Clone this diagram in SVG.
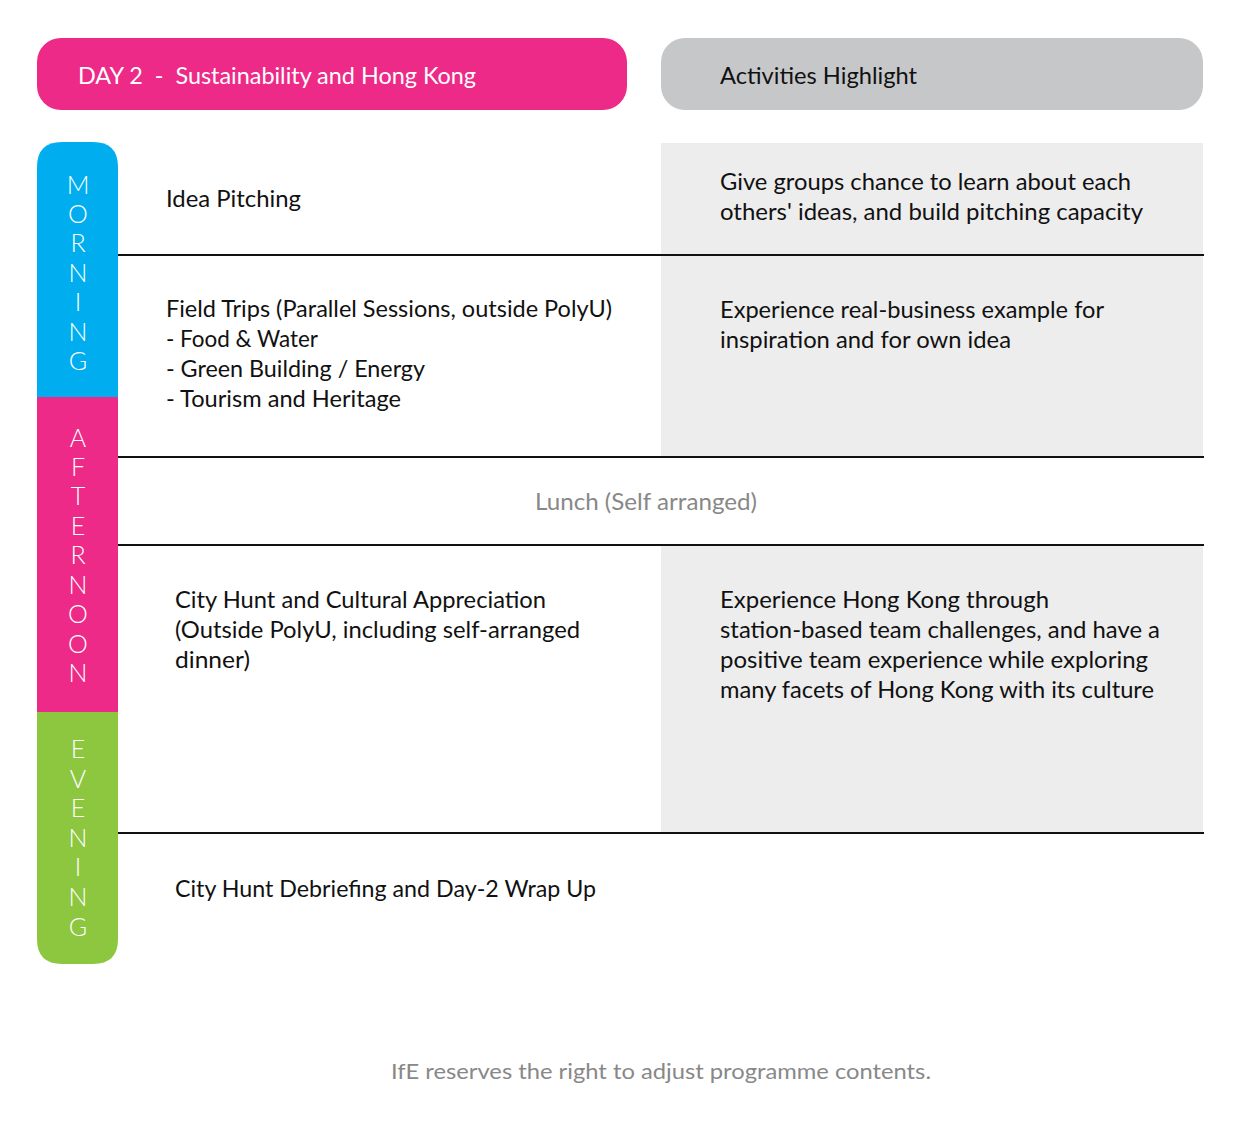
<svg xmlns="http://www.w3.org/2000/svg" width="1240" height="1139" viewBox="0 0 1240 1139">
<style>
.t{font-family:"Lato","Liberation Sans",sans-serif;font-size:23px;fill:#111}
.w{font-family:"Lato","Liberation Sans",sans-serif;font-size:23px;fill:#fff;white-space:pre}
.g{font-family:"Lato","Liberation Sans",sans-serif;fill:#888}
.bar{font-family:"Lato","Liberation Sans",sans-serif;font-size:25px;font-weight:300;fill:#fff;text-anchor:middle}
.ln{stroke:#111;stroke-width:2}
</style>
<rect width="1240" height="1139" fill="#fff"/>
<g id="header-day">
<rect x="37" y="38" width="590" height="72" rx="24" fill="#ED2A87"/>
<text class="w" x="78" y="84" xml:space="preserve" textLength="398" lengthAdjust="spacingAndGlyphs">DAY 2  -  Sustainability and Hong Kong</text>
</g>
<g id="header-activities">
<rect x="661" y="38" width="542" height="72" rx="24" fill="#C6C7C9"/>
<text class="t" x="720" y="84" textLength="197" lengthAdjust="spacingAndGlyphs">Activities Highlight</text>
</g>
<g id="panels">
<rect x="661" y="143" width="542" height="314" fill="#EDEDED"/>
<rect x="661" y="545" width="542" height="288" fill="#EDEDED"/>
</g>
<g id="timebar">
<path d="M37,397 V167 Q37,142 62,142 H93 Q118,142 118,167 V397 Z" fill="#00AEEF"/>
<rect x="37" y="397" width="81" height="315" fill="#ED2A87"/>
<path d="M37,712 H118 V939 Q118,964 93,964 H62 Q37,964 37,939 Z" fill="#8DC63F"/>
<text class="bar" x="78" y="194">M</text>
<text class="bar" x="78" y="223">O</text>
<text class="bar" x="78" y="252">R</text>
<text class="bar" x="78" y="282">N</text>
<text class="bar" x="78" y="311">I</text>
<text class="bar" x="78" y="341">N</text>
<text class="bar" x="78" y="370">G</text>
<text class="bar" x="78" y="447">A</text>
<text class="bar" x="78" y="476">F</text>
<text class="bar" x="78" y="505">T</text>
<text class="bar" x="78" y="535">E</text>
<text class="bar" x="78" y="564">R</text>
<text class="bar" x="78" y="594">N</text>
<text class="bar" x="78" y="623">O</text>
<text class="bar" x="78" y="653">O</text>
<text class="bar" x="78" y="682">N</text>
<text class="bar" x="78" y="758">E</text>
<text class="bar" x="78" y="788">V</text>
<text class="bar" x="78" y="817">E</text>
<text class="bar" x="78" y="847">N</text>
<text class="bar" x="78" y="876">I</text>
<text class="bar" x="78" y="906">N</text>
<text class="bar" x="78" y="936">G</text>
</g>
<g id="connectors">
<line class="ln" x1="118" y1="255" x2="1204" y2="255"/>
<line class="ln" x1="118" y1="457" x2="1204" y2="457"/>
<line class="ln" x1="118" y1="545" x2="1204" y2="545"/>
<line class="ln" x1="118" y1="833" x2="1204" y2="833"/>
</g>
<g id="row-idea">
<text class="t" x="166" y="207" textLength="135" lengthAdjust="spacingAndGlyphs">Idea Pitching</text>
<text class="t" x="720" y="190" textLength="411" lengthAdjust="spacingAndGlyphs">Give groups chance to learn about each</text>
<text class="t" x="720" y="220" textLength="423" lengthAdjust="spacingAndGlyphs">others' ideas, and build pitching capacity</text>
</g>
<g id="row-field">
<text class="t" x="166" y="317" textLength="446" lengthAdjust="spacingAndGlyphs">Field Trips (Parallel Sessions, outside PolyU)</text>
<text class="t" x="166" y="347" textLength="152" lengthAdjust="spacingAndGlyphs">- Food &amp; Water</text>
<text class="t" x="166" y="377" textLength="259" lengthAdjust="spacingAndGlyphs">- Green Building / Energy</text>
<text class="t" x="166" y="407" textLength="235" lengthAdjust="spacingAndGlyphs">- Tourism and Heritage</text>
<text class="t" x="720" y="318" textLength="384" lengthAdjust="spacingAndGlyphs">Experience real-business example for</text>
<text class="t" x="720" y="348" textLength="291" lengthAdjust="spacingAndGlyphs">inspiration and for own idea</text>
</g>
<g id="row-lunch">
<text class="g" x="535" y="510" font-size="23" textLength="222" lengthAdjust="spacingAndGlyphs">Lunch (Self arranged)</text>
</g>
<g id="row-cityhunt">
<text class="t" x="175" y="608" textLength="371" lengthAdjust="spacingAndGlyphs">City Hunt and Cultural Appreciation</text>
<text class="t" x="175" y="638" textLength="405" lengthAdjust="spacingAndGlyphs">(Outside PolyU, including self-arranged</text>
<text class="t" x="175" y="668" textLength="75" lengthAdjust="spacingAndGlyphs">dinner)</text>
<text class="t" x="720" y="608" textLength="329" lengthAdjust="spacingAndGlyphs">Experience Hong Kong through</text>
<text class="t" x="720" y="638" textLength="440" lengthAdjust="spacingAndGlyphs">station-based team challenges, and have a</text>
<text class="t" x="720" y="668" textLength="428" lengthAdjust="spacingAndGlyphs">positive team experience while exploring</text>
<text class="t" x="720" y="698" textLength="434" lengthAdjust="spacingAndGlyphs">many facets of Hong Kong with its culture</text>
</g>
<g id="row-debrief">
<text class="t" x="175" y="897" textLength="421" lengthAdjust="spacingAndGlyphs">City Hunt Debriefing and Day-2 Wrap Up</text>
</g>
<g id="footer">
<text class="g" x="391" y="1079" font-size="22" textLength="540" lengthAdjust="spacingAndGlyphs">IfE reserves the right to adjust programme contents.</text>
</g>
</svg>
